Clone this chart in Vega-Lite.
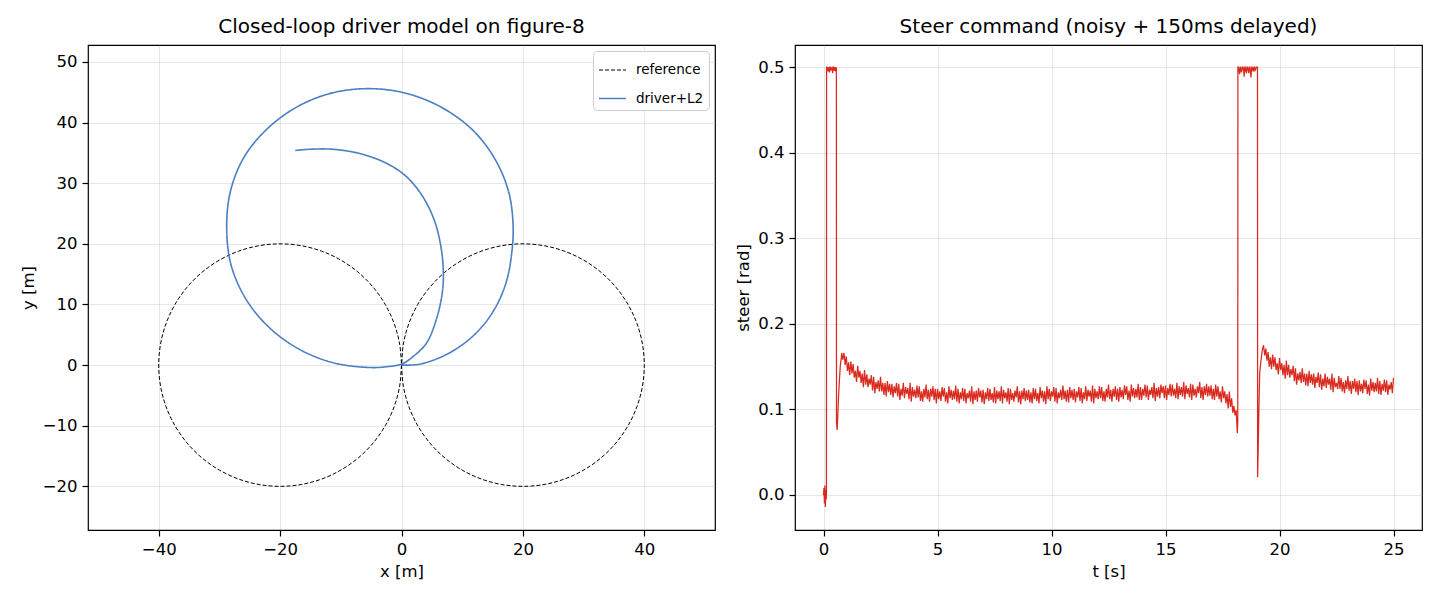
{
  "$schema": "https://vega.github.io/schema/vega-lite/v6.json",
  "background": "white",
  "padding": {"left": 19, "top": 16, "right": 17, "bottom": 8},
  "config": {
    "font": "DejaVu Sans",
    "view": {"stroke": "black", "strokeWidth": 1.2},
    "axis": {"domain": false, "grid": true, "gridColor": "#b0b0b0", "gridOpacity": 0.3, "gridWidth": 1, "tickColor": "black", "tickSize": 6, "tickWidth": 1.2, "labelFontSize": 16.5, "labelColor": "black", "titleFontSize": 16.5, "titleFontWeight": "normal", "titleColor": "black", "labelPadding": 5, "titlePadding": 6},
    "title": {"fontSize": 20, "fontWeight": "normal", "offset": 8, "color": "black"},
    "legend": {"labelFontSize": 13.5, "labelColor": "black"},
    "concat": {"spacing": 19}
  },
  "datasets": {
    "ref": [
      {"s":"reference","i":0,"x":0,"y":0},{"s":"reference","i":1,"x":0.304,"y":-3.473},{"s":"reference","i":2,"x":1.206,"y":-6.84},{"s":"reference","i":3,"x":2.679,"y":-10},{"s":"reference","i":4,"x":4.679,"y":-12.856},{"s":"reference","i":5,"x":7.144,"y":-15.321},{"s":"reference","i":6,"x":10,"y":-17.321},{"s":"reference","i":7,"x":13.16,"y":-18.794},{"s":"reference","i":8,"x":16.527,"y":-19.696},{"s":"reference","i":9,"x":20,"y":-20},{"s":"reference","i":10,"x":23.473,"y":-19.696},{"s":"reference","i":11,"x":26.84,"y":-18.794},{"s":"reference","i":12,"x":30,"y":-17.321},{"s":"reference","i":13,"x":32.856,"y":-15.321},{"s":"reference","i":14,"x":35.321,"y":-12.856},{"s":"reference","i":15,"x":37.321,"y":-10},{"s":"reference","i":16,"x":38.794,"y":-6.84},{"s":"reference","i":17,"x":39.696,"y":-3.473},{"s":"reference","i":18,"x":40,"y":0},{"s":"reference","i":19,"x":39.696,"y":3.473},{"s":"reference","i":20,"x":38.794,"y":6.84},{"s":"reference","i":21,"x":37.321,"y":10},{"s":"reference","i":22,"x":35.321,"y":12.856},{"s":"reference","i":23,"x":32.856,"y":15.321},{"s":"reference","i":24,"x":30,"y":17.321},{"s":"reference","i":25,"x":26.84,"y":18.794},{"s":"reference","i":26,"x":23.473,"y":19.696},{"s":"reference","i":27,"x":20,"y":20},{"s":"reference","i":28,"x":16.527,"y":19.696},{"s":"reference","i":29,"x":13.16,"y":18.794},{"s":"reference","i":30,"x":10,"y":17.321},{"s":"reference","i":31,"x":7.144,"y":15.321},{"s":"reference","i":32,"x":4.679,"y":12.856},{"s":"reference","i":33,"x":2.679,"y":10},{"s":"reference","i":34,"x":1.206,"y":6.84},{"s":"reference","i":35,"x":0.304,"y":3.473},{"s":"reference","i":36,"x":0,"y":0},
      {"s":"reference","i":37,"x":-0.304,"y":-3.473},{"s":"reference","i":38,"x":-1.206,"y":-6.84},{"s":"reference","i":39,"x":-2.679,"y":-10},{"s":"reference","i":40,"x":-4.679,"y":-12.856},{"s":"reference","i":41,"x":-7.144,"y":-15.321},{"s":"reference","i":42,"x":-10,"y":-17.321},{"s":"reference","i":43,"x":-13.16,"y":-18.794},{"s":"reference","i":44,"x":-16.527,"y":-19.696},{"s":"reference","i":45,"x":-20,"y":-20},{"s":"reference","i":46,"x":-23.473,"y":-19.696},{"s":"reference","i":47,"x":-26.84,"y":-18.794},{"s":"reference","i":48,"x":-30,"y":-17.321},{"s":"reference","i":49,"x":-32.856,"y":-15.321},{"s":"reference","i":50,"x":-35.321,"y":-12.856},{"s":"reference","i":51,"x":-37.321,"y":-10},{"s":"reference","i":52,"x":-38.794,"y":-6.84},{"s":"reference","i":53,"x":-39.696,"y":-3.473},{"s":"reference","i":54,"x":-40,"y":0},{"s":"reference","i":55,"x":-39.696,"y":3.473},{"s":"reference","i":56,"x":-38.794,"y":6.84},{"s":"reference","i":57,"x":-37.321,"y":10},{"s":"reference","i":58,"x":-35.321,"y":12.856},{"s":"reference","i":59,"x":-32.856,"y":15.321},{"s":"reference","i":60,"x":-30,"y":17.321},{"s":"reference","i":61,"x":-26.84,"y":18.794},{"s":"reference","i":62,"x":-23.473,"y":19.696},{"s":"reference","i":63,"x":-20,"y":20},{"s":"reference","i":64,"x":-16.527,"y":19.696},{"s":"reference","i":65,"x":-13.16,"y":18.794},{"s":"reference","i":66,"x":-10,"y":17.321},{"s":"reference","i":67,"x":-7.144,"y":15.321},{"s":"reference","i":68,"x":-4.679,"y":12.856},{"s":"reference","i":69,"x":-2.679,"y":10},{"s":"reference","i":70,"x":-1.206,"y":6.84},{"s":"reference","i":71,"x":-0.304,"y":3.473},{"s":"reference","i":72,"x":0,"y":0}
    ],
    "drv": [
      {"s":"driver+L2","i":0,"x":0,"y":0},{"s":"driver+L2","i":1,"x":1.5,"y":0},{"s":"driver+L2","i":2,"x":3.0,"y":0.15},{"s":"driver+L2","i":3,"x":5.2,"y":0.8},{"s":"driver+L2","i":4,"x":7.5,"y":1.8},{"s":"driver+L2","i":5,"x":9.8,"y":3.2},{"s":"driver+L2","i":6,"x":12.0,"y":5.0},{"s":"driver+L2","i":7,"x":14.2,"y":7.5},{"s":"driver+L2","i":8,"x":16.1,"y":10.7},{"s":"driver+L2","i":9,"x":17.4,"y":14.2},{"s":"driver+L2","i":10,"x":18.1,"y":18.0},{"s":"driver+L2","i":11,"x":18.4,"y":22.6},{"s":"driver+L2","i":12,"x":17.7,"y":28.4},{"s":"driver+L2","i":13,"x":15.5,"y":33.8},{"s":"driver+L2","i":14,"x":11.9,"y":38.6},{"s":"driver+L2","i":15,"x":6.8,"y":42.4},{"s":"driver+L2","i":16,"x":0.9,"y":44.8},{"s":"driver+L2","i":17,"x":-5.2,"y":45.6},{"s":"driver+L2","i":18,"x":-11.4,"y":44.9},{"s":"driver+L2","i":19,"x":-17.2,"y":42.6},{"s":"driver+L2","i":20,"x":-22.2,"y":38.9},{"s":"driver+L2","i":21,"x":-26.0,"y":34.2},{"s":"driver+L2","i":22,"x":-28.2,"y":28.6},{"s":"driver+L2","i":23,"x":-28.8,"y":22.6},{"s":"driver+L2","i":24,"x":-28.1,"y":16.6},{"s":"driver+L2","i":25,"x":-25.7,"y":11.0},{"s":"driver+L2","i":26,"x":-21.9,"y":6.3},{"s":"driver+L2","i":27,"x":-17.0,"y":2.7},{"s":"driver+L2","i":28,"x":-11.3,"y":0.4},{"s":"driver+L2","i":29,"x":-5.2,"y":-0.4},{"s":"driver+L2","i":30,"x":-2.3,"y":-0.25},{"s":"driver+L2","i":31,"x":0.1,"y":0.2},{"s":"driver+L2","i":32,"x":1.9,"y":1.4},{"s":"driver+L2","i":33,"x":4.1,"y":3.6},{"s":"driver+L2","i":34,"x":5.7,"y":7.4},{"s":"driver+L2","i":35,"x":6.7,"y":11.8},{"s":"driver+L2","i":36,"x":6.9,"y":15.1},{"s":"driver+L2","i":37,"x":6.5,"y":19.5},{"s":"driver+L2","i":38,"x":5.4,"y":23.9},{"s":"driver+L2","i":39,"x":3.5,"y":27.8},{"s":"driver+L2","i":40,"x":0.8,"y":31.1},{"s":"driver+L2","i":41,"x":-2.5,"y":33.3},{"s":"driver+L2","i":42,"x":-6.9,"y":34.9},{"s":"driver+L2","i":43,"x":-11.3,"y":35.6},{"s":"driver+L2","i":44,"x":-15.2,"y":35.6},{"s":"driver+L2","i":45,"x":-17.5,"y":35.4}
    ],
    "steer": [
      {"t":0.0,"v":0.0},{"t":0.02,"v":0.008},{"t":0.04,"v":-0.01},{"t":0.06,"v":0.011},{"t":0.08,"v":-0.014},{"t":0.1,"v":0.006},{"t":0.12,"v":-0.005},{"t":0.13,"v":0.004},
      {"t":0.135,"v":0.5},{"t":0.14,"v":0.5},{"t":0.16,"v":0.497},{"t":0.18,"v":0.5},{"t":0.2,"v":0.495},{"t":0.22,"v":0.5},{"t":0.24,"v":0.498},{"t":0.26,"v":0.494},{"t":0.28,"v":0.5},{"t":0.3,"v":0.5},{"t":0.32,"v":0.496},{"t":0.34,"v":0.5},{"t":0.36,"v":0.497},{"t":0.38,"v":0.5},{"t":0.4,"v":0.493},{"t":0.42,"v":0.5},{"t":0.44,"v":0.5},{"t":0.46,"v":0.496},{"t":0.48,"v":0.5},{"t":0.5,"v":0.498},{"t":0.52,"v":0.5},{"t":0.54,"v":0.495},{"t":0.565,"v":0.5},
      {"t":0.57,"v":0.085},{"t":0.6,"v":0.076},{"t":0.63,"v":0.095},{"t":0.66,"v":0.115},{"t":0.7,"v":0.135},{"t":0.74,"v":0.152},{"t":0.78,"v":0.16},{"t":0.8,"v":0.166},{"t":0.84,"v":0.158},{"t":0.87,"v":0.162},
      {"t":0.9,"v":0.166},{"t":1.0,"v":0.162},{"t":1.1,"v":0.155},{"t":1.2,"v":0.156},{"t":1.3,"v":0.153},{"t":1.4,"v":0.145},{"t":1.5,"v":0.151},{"t":1.6,"v":0.145},{"t":1.7,"v":0.142},{"t":1.8,"v":0.146},
      {"t":1.9,"v":0.141},{"t":2.0,"v":0.136},{"t":2.1,"v":0.14},{"t":2.2,"v":0.138},{"t":2.3,"v":0.132},{"t":2.4,"v":0.134},{"t":2.5,"v":0.138},{"t":2.6,"v":0.131},{"t":2.7,"v":0.131},{"t":2.8,"v":0.133},
      {"t":2.9,"v":0.13},{"t":3.0,"v":0.13},{"t":3.1,"v":0.127},{"t":3.2,"v":0.131},{"t":3.3,"v":0.13},{"t":3.4,"v":0.124},{"t":3.5,"v":0.131},{"t":3.6,"v":0.126},{"t":3.7,"v":0.125},{"t":3.8,"v":0.131},
      {"t":3.9,"v":0.126},{"t":4.0,"v":0.123},{"t":4.1,"v":0.128},{"t":4.2,"v":0.127},{"t":4.3,"v":0.121},{"t":4.4,"v":0.124},{"t":4.5,"v":0.129},{"t":4.6,"v":0.123},{"t":4.7,"v":0.124},{"t":4.8,"v":0.127},
      {"t":4.9,"v":0.124},{"t":5.0,"v":0.124},{"t":5.1,"v":0.121},{"t":5.2,"v":0.126},{"t":5.3,"v":0.125},{"t":5.4,"v":0.12},{"t":5.5,"v":0.127},{"t":5.6,"v":0.123},{"t":5.7,"v":0.122},{"t":5.8,"v":0.128},
      {"t":5.9,"v":0.124},{"t":6.0,"v":0.12},{"t":6.1,"v":0.125},{"t":6.2,"v":0.124},{"t":6.3,"v":0.119},{"t":6.4,"v":0.122},{"t":6.5,"v":0.127},{"t":6.6,"v":0.121},{"t":6.7,"v":0.122},{"t":6.8,"v":0.125},
      {"t":6.9,"v":0.122},{"t":7.0,"v":0.123},{"t":7.1,"v":0.12},{"t":7.2,"v":0.125},{"t":7.3,"v":0.124},{"t":7.4,"v":0.119},{"t":7.5,"v":0.126},{"t":7.6,"v":0.122},{"t":7.7,"v":0.121},{"t":7.8,"v":0.127},
      {"t":7.9,"v":0.123},{"t":8.0,"v":0.12},{"t":8.1,"v":0.125},{"t":8.2,"v":0.124},{"t":8.3,"v":0.119},{"t":8.4,"v":0.122},{"t":8.5,"v":0.127},{"t":8.6,"v":0.121},{"t":8.7,"v":0.122},{"t":8.8,"v":0.125},
      {"t":8.9,"v":0.122},{"t":9.0,"v":0.123},{"t":9.1,"v":0.12},{"t":9.2,"v":0.125},{"t":9.3,"v":0.124},{"t":9.4,"v":0.119},{"t":9.5,"v":0.126},{"t":9.6,"v":0.122},{"t":9.7,"v":0.121},{"t":9.8,"v":0.127},
      {"t":9.9,"v":0.124},{"t":10.0,"v":0.121},{"t":10.1,"v":0.126},{"t":10.2,"v":0.125},{"t":10.3,"v":0.12},{"t":10.4,"v":0.123},{"t":10.5,"v":0.128},{"t":10.6,"v":0.122},{"t":10.7,"v":0.123},{"t":10.8,"v":0.126},
      {"t":10.9,"v":0.123},{"t":11.0,"v":0.124},{"t":11.1,"v":0.121},{"t":11.2,"v":0.126},{"t":11.3,"v":0.125},{"t":11.4,"v":0.12},{"t":11.5,"v":0.127},{"t":11.6,"v":0.123},{"t":11.7,"v":0.122},{"t":11.8,"v":0.128},
      {"t":11.9,"v":0.124},{"t":12.0,"v":0.121},{"t":12.1,"v":0.127},{"t":12.2,"v":0.126},{"t":12.3,"v":0.121},{"t":12.4,"v":0.124},{"t":12.5,"v":0.129},{"t":12.6,"v":0.123},{"t":12.7,"v":0.124},{"t":12.8,"v":0.127},
      {"t":12.9,"v":0.124},{"t":13.0,"v":0.126},{"t":13.1,"v":0.123},{"t":13.2,"v":0.128},{"t":13.3,"v":0.127},{"t":13.4,"v":0.122},{"t":13.5,"v":0.129},{"t":13.6,"v":0.125},{"t":13.7,"v":0.124},{"t":13.8,"v":0.13},
      {"t":13.9,"v":0.126},{"t":14.0,"v":0.124},{"t":14.1,"v":0.129},{"t":14.2,"v":0.128},{"t":14.3,"v":0.123},{"t":14.4,"v":0.126},{"t":14.5,"v":0.131},{"t":14.6,"v":0.125},{"t":14.7,"v":0.126},{"t":14.8,"v":0.129},
      {"t":14.9,"v":0.127},{"t":15.0,"v":0.128},{"t":15.1,"v":0.125},{"t":15.2,"v":0.13},{"t":15.3,"v":0.129},{"t":15.4,"v":0.124},{"t":15.5,"v":0.131},{"t":15.6,"v":0.127},{"t":15.7,"v":0.126},{"t":15.8,"v":0.132},
      {"t":15.9,"v":0.128},{"t":16.0,"v":0.125},{"t":16.1,"v":0.13},{"t":16.2,"v":0.129},{"t":16.3,"v":0.124},{"t":16.4,"v":0.127},{"t":16.5,"v":0.132},{"t":16.6,"v":0.126},{"t":16.7,"v":0.127},{"t":16.8,"v":0.13},
      {"t":16.9,"v":0.127},{"t":17.0,"v":0.128},{"t":17.1,"v":0.124},{"t":17.2,"v":0.129},{"t":17.3,"v":0.127},{"t":17.4,"v":0.121},{"t":17.5,"v":0.127},{"t":17.6,"v":0.121},{"t":17.7,"v":0.118},{"t":17.8,"v":0.121},
      {"t":17.9,"v":0.113},{"t":18.0,"v":0.104},{"t":18.1,"v":0.099},{"t":18.15,"v":0.072},{"t":18.17,"v":0.085},
      {"t":18.175,"v":0.5},{"t":18.2,"v":0.5},{"t":18.225,"v":0.496},{"t":18.25,"v":0.492},{"t":18.275,"v":0.5},{"t":18.3,"v":0.5},{"t":18.325,"v":0.494},{"t":18.35,"v":0.496},{"t":18.375,"v":0.5},{"t":18.4,"v":0.5},{"t":18.425,"v":0.497},{"t":18.45,"v":0.489},{"t":18.475,"v":0.5},{"t":18.5,"v":0.5},{"t":18.525,"v":0.495},{"t":18.55,"v":0.494},{"t":18.575,"v":0.5},{"t":18.6,"v":0.5},{"t":18.625,"v":0.496},{"t":18.65,"v":0.493},{"t":18.675,"v":0.5},{"t":18.7,"v":0.5},{"t":18.725,"v":0.494},{"t":18.75,"v":0.488},{"t":18.775,"v":0.5},{"t":18.8,"v":0.5},{"t":18.825,"v":0.497},{"t":18.85,"v":0.495},{"t":18.875,"v":0.5},{"t":18.9,"v":0.5},{"t":18.925,"v":0.496},{"t":18.95,"v":0.497},{"t":18.975,"v":0.5},{"t":19.0,"v":0.5},{"t":19.035,"v":0.5},
      {"t":19.04,"v":0.021},{"t":19.07,"v":0.06},{"t":19.1,"v":0.105},{"t":19.13,"v":0.142},{"t":19.16,"v":0.15},{"t":19.2,"v":0.16},{"t":19.25,"v":0.17},{"t":19.3,"v":0.175},{"t":19.35,"v":0.163},
      {"t":19.4,"v":0.171},{"t":19.5,"v":0.167},{"t":19.6,"v":0.161},{"t":19.7,"v":0.164},{"t":19.8,"v":0.161},{"t":19.9,"v":0.154},{"t":20.0,"v":0.16},{"t":20.1,"v":0.154},{"t":20.2,"v":0.152},{"t":20.3,"v":0.157},
      {"t":20.4,"v":0.152},{"t":20.5,"v":0.147},{"t":20.6,"v":0.151},{"t":20.7,"v":0.148},{"t":20.8,"v":0.142},{"t":20.9,"v":0.144},{"t":21.0,"v":0.148},{"t":21.1,"v":0.142},{"t":21.2,"v":0.142},{"t":21.3,"v":0.145},
      {"t":21.4,"v":0.141},{"t":21.5,"v":0.142},{"t":21.6,"v":0.138},{"t":21.7,"v":0.143},{"t":21.8,"v":0.141},{"t":21.9,"v":0.136},{"t":22.0,"v":0.142},{"t":22.1,"v":0.138},{"t":22.2,"v":0.136},{"t":22.3,"v":0.142},
      {"t":22.4,"v":0.137},{"t":22.5,"v":0.131},{"t":22.6,"v":0.139},{"t":22.7,"v":0.137},{"t":22.8,"v":0.132},{"t":22.9,"v":0.134},{"t":23.0,"v":0.139},{"t":23.1,"v":0.133},{"t":23.2,"v":0.133},{"t":23.3,"v":0.136},
      {"t":23.4,"v":0.133},{"t":23.5,"v":0.134},{"t":23.6,"v":0.13},{"t":23.7,"v":0.135},{"t":23.8,"v":0.134},{"t":23.9,"v":0.129},{"t":24.0,"v":0.136},{"t":24.1,"v":0.132},{"t":24.2,"v":0.131},{"t":24.3,"v":0.137},
      {"t":24.4,"v":0.133},{"t":24.5,"v":0.13},{"t":24.6,"v":0.135},{"t":24.7,"v":0.134},{"t":24.8,"v":0.129},{"t":24.9,"v":0.132},{"t":25.0,"v":0.137},
      {"t":0.95,"v":0.152},{"t":1.05,"v":0.145},{"t":1.15,"v":0.14},{"t":1.25,"v":0.142},{"t":1.35,"v":0.137},{"t":1.45,"v":0.132},{"t":1.55,"v":0.137},{"t":1.65,"v":0.131},{"t":1.75,"v":0.126},{"t":1.85,"v":0.129},
      {"t":1.95,"v":0.126},{"t":2.05,"v":0.129},{"t":2.15,"v":0.122},{"t":2.25,"v":0.119},{"t":2.35,"v":0.124},{"t":2.45,"v":0.121},{"t":2.55,"v":0.121},{"t":2.65,"v":0.117},{"t":2.75,"v":0.115},{"t":2.85,"v":0.12},
      {"t":2.95,"v":0.117},{"t":3.05,"v":0.114},{"t":3.15,"v":0.119},{"t":3.25,"v":0.115},{"t":3.35,"v":0.111},{"t":3.45,"v":0.116},{"t":3.55,"v":0.113},{"t":3.65,"v":0.118},{"t":3.75,"v":0.112},{"t":3.85,"v":0.109},
      {"t":3.95,"v":0.115},{"t":4.05,"v":0.113},{"t":4.15,"v":0.114},{"t":4.25,"v":0.11},{"t":4.35,"v":0.109},{"t":4.45,"v":0.114},{"t":4.55,"v":0.112},{"t":4.65,"v":0.109},{"t":4.75,"v":0.115},{"t":4.85,"v":0.111},
      {"t":4.95,"v":0.107},{"t":5.05,"v":0.112},{"t":5.15,"v":0.11},{"t":5.25,"v":0.115},{"t":5.35,"v":0.109},{"t":5.45,"v":0.107},{"t":5.55,"v":0.113},{"t":5.65,"v":0.111},{"t":5.75,"v":0.112},{"t":5.85,"v":0.109},
      {"t":5.95,"v":0.107},{"t":6.05,"v":0.112},{"t":6.15,"v":0.11},{"t":6.25,"v":0.107},{"t":6.35,"v":0.113},{"t":6.45,"v":0.109},{"t":6.55,"v":0.106},{"t":6.65,"v":0.111},{"t":6.75,"v":0.109},{"t":6.85,"v":0.114},
      {"t":6.95,"v":0.108},{"t":7.05,"v":0.106},{"t":7.15,"v":0.112},{"t":7.25,"v":0.11},{"t":7.35,"v":0.111},{"t":7.45,"v":0.108},{"t":7.55,"v":0.107},{"t":7.65,"v":0.112},{"t":7.75,"v":0.11},{"t":7.85,"v":0.107},
      {"t":7.95,"v":0.113},{"t":8.05,"v":0.109},{"t":8.15,"v":0.106},{"t":8.25,"v":0.111},{"t":8.35,"v":0.109},{"t":8.45,"v":0.114},{"t":8.55,"v":0.108},{"t":8.65,"v":0.106},{"t":8.75,"v":0.112},{"t":8.85,"v":0.11},
      {"t":8.95,"v":0.111},{"t":9.05,"v":0.108},{"t":9.15,"v":0.107},{"t":9.25,"v":0.112},{"t":9.35,"v":0.11},{"t":9.45,"v":0.107},{"t":9.55,"v":0.113},{"t":9.65,"v":0.109},{"t":9.75,"v":0.106},{"t":9.85,"v":0.112},
      {"t":9.95,"v":0.11},{"t":10.05,"v":0.115},{"t":10.15,"v":0.109},{"t":10.25,"v":0.107},{"t":10.35,"v":0.113},{"t":10.45,"v":0.111},{"t":10.55,"v":0.112},{"t":10.65,"v":0.109},{"t":10.75,"v":0.108},{"t":10.85,"v":0.113},
      {"t":10.95,"v":0.111},{"t":11.05,"v":0.108},{"t":11.15,"v":0.114},{"t":11.25,"v":0.11},{"t":11.35,"v":0.107},{"t":11.45,"v":0.112},{"t":11.55,"v":0.11},{"t":11.65,"v":0.115},{"t":11.75,"v":0.109},{"t":11.85,"v":0.107},
      {"t":11.95,"v":0.113},{"t":12.05,"v":0.112},{"t":12.15,"v":0.113},{"t":12.25,"v":0.11},{"t":12.35,"v":0.109},{"t":12.45,"v":0.114},{"t":12.55,"v":0.112},{"t":12.65,"v":0.109},{"t":12.75,"v":0.115},{"t":12.85,"v":0.111},
      {"t":12.95,"v":0.109},{"t":13.05,"v":0.114},{"t":13.15,"v":0.112},{"t":13.25,"v":0.117},{"t":13.35,"v":0.111},{"t":13.45,"v":0.109},{"t":13.55,"v":0.115},{"t":13.65,"v":0.113},{"t":13.75,"v":0.114},{"t":13.85,"v":0.111},
      {"t":13.95,"v":0.111},{"t":14.05,"v":0.116},{"t":14.15,"v":0.114},{"t":14.25,"v":0.111},{"t":14.35,"v":0.117},{"t":14.45,"v":0.113},{"t":14.55,"v":0.11},{"t":14.65,"v":0.115},{"t":14.75,"v":0.113},{"t":14.85,"v":0.119},
      {"t":14.95,"v":0.113},{"t":15.05,"v":0.111},{"t":15.15,"v":0.117},{"t":15.25,"v":0.115},{"t":15.35,"v":0.116},{"t":15.45,"v":0.113},{"t":15.55,"v":0.112},{"t":15.65,"v":0.117},{"t":15.75,"v":0.115},{"t":15.85,"v":0.112},
      {"t":15.95,"v":0.118},{"t":16.05,"v":0.114},{"t":16.15,"v":0.111},{"t":16.25,"v":0.116},{"t":16.35,"v":0.114},{"t":16.45,"v":0.119},{"t":16.55,"v":0.113},{"t":16.65,"v":0.111},{"t":16.75,"v":0.117},{"t":16.85,"v":0.115},
      {"t":16.95,"v":0.116},{"t":17.05,"v":0.112},{"t":17.15,"v":0.111},{"t":17.25,"v":0.115},{"t":17.35,"v":0.112},{"t":17.45,"v":0.108},{"t":17.55,"v":0.113},{"t":17.65,"v":0.107},{"t":17.75,"v":0.101},{"t":17.85,"v":0.103},
      {"t":17.95,"v":0.096},{"t":18.05,"v":0.093},
      {"t":19.45,"v":0.157},{"t":19.55,"v":0.15},{"t":19.65,"v":0.147},{"t":19.75,"v":0.15},{"t":19.85,"v":0.146},{"t":19.95,"v":0.141},{"t":20.05,"v":0.146},{"t":20.15,"v":0.14},{"t":20.25,"v":0.136},{"t":20.35,"v":0.14},
      {"t":20.45,"v":0.137},{"t":20.55,"v":0.14},{"t":20.65,"v":0.133},{"t":20.75,"v":0.129},{"t":20.85,"v":0.134},{"t":20.95,"v":0.131},{"t":21.05,"v":0.132},{"t":21.15,"v":0.128},{"t":21.25,"v":0.127},{"t":21.35,"v":0.131},
      {"t":21.45,"v":0.129},{"t":21.55,"v":0.125},{"t":21.65,"v":0.131},{"t":21.75,"v":0.126},{"t":21.85,"v":0.123},{"t":21.95,"v":0.127},{"t":22.05,"v":0.125},{"t":22.15,"v":0.129},{"t":22.25,"v":0.123},{"t":22.35,"v":0.12},
      {"t":22.45,"v":0.126},{"t":22.55,"v":0.124},{"t":22.65,"v":0.124},{"t":22.75,"v":0.121},{"t":22.85,"v":0.119},{"t":22.95,"v":0.124},{"t":23.05,"v":0.122},{"t":23.15,"v":0.118},{"t":23.25,"v":0.124},{"t":23.35,"v":0.12},
      {"t":23.45,"v":0.117},{"t":23.55,"v":0.121},{"t":23.65,"v":0.119},{"t":23.75,"v":0.124},{"t":23.85,"v":0.118},{"t":23.95,"v":0.116},{"t":24.05,"v":0.122},{"t":24.15,"v":0.12},{"t":24.25,"v":0.121},{"t":24.35,"v":0.118},
      {"t":24.45,"v":0.117},{"t":24.55,"v":0.122},{"t":24.65,"v":0.12},{"t":24.75,"v":0.117},{"t":24.85,"v":0.123},{"t":24.95,"v":0.119}
    ]
  },
  "resolve": {"scale": {"color": "independent", "strokeDash": "independent", "strokeWidth": "independent"}, "legend": {"color": "independent", "strokeDash": "independent", "strokeWidth": "independent"}},
  "hconcat": [
    {
      "width": 627,
      "height": 485,
      "title": "Closed-loop driver model on figure-8",
      "encoding": {
        "x": {"field": "x", "type": "quantitative", "scale": {"domain": [-51.65, 51.65], "nice": false, "zero": false}, "axis": {"title": "x [m]", "values": [-40, -20, 0, 20, 40]}},
        "y": {"field": "y", "type": "quantitative", "scale": {"domain": [-27.2, 52.8], "nice": false, "zero": false}, "axis": {"title": "y [m]", "values": [-20, -10, 0, 10, 20, 30, 40, 50]}},
        "order": {"field": "i", "type": "quantitative"},
        "color": {"field": "s", "type": "nominal", "scale": {"domain": ["reference", "driver+L2"], "range": ["black", "#4a7fc1"]}, "legend": {"title": null, "orient": "top-right", "offset": 6, "symbolType": "stroke", "symbolSize": 729, "strokeColor": "#cccccc", "fillColor": "white", "cornerRadius": 4, "padding": 5, "rowPadding": 7, "labelOffset": 9}},
        "strokeDash": {"field": "s", "type": "nominal", "scale": {"domain": ["reference", "driver+L2"], "range": [[4, 2], [1, 0]]}, "legend": {"title": null}},
        "strokeWidth": {"field": "s", "type": "nominal", "scale": {"domain": ["reference", "driver+L2"], "range": [1.0, 1.6]}, "legend": {"title": null}}
      },
      "layer": [
        {"data": {"name": "ref"}, "mark": {"type": "line", "clip": true, "interpolate": "catmull-rom"}},
        {"data": {"name": "drv"}, "mark": {"type": "line", "clip": true, "interpolate": "catmull-rom"}}
      ]
    },
    {
      "width": 627,
      "height": 485,
      "title": "Steer command (noisy + 150ms delayed)",
      "data": {"name": "steer"},
      "mark": {"type": "line", "color": "#d92a1f", "strokeWidth": 1.25, "clip": true},
      "encoding": {
        "x": {"field": "t", "type": "quantitative", "scale": {"domain": [-1.25, 26.25], "nice": false, "zero": false}, "axis": {"title": "t [s]", "values": [0, 5, 10, 15, 20, 25]}},
        "y": {"field": "v", "type": "quantitative", "scale": {"domain": [-0.041, 0.526], "nice": false, "zero": false}, "axis": {"title": "steer [rad]", "values": [0, 0.1, 0.2, 0.3, 0.4, 0.5], "format": ".1f"}},
        "order": {"field": "t", "type": "quantitative"}
      }
    }
  ]
}
